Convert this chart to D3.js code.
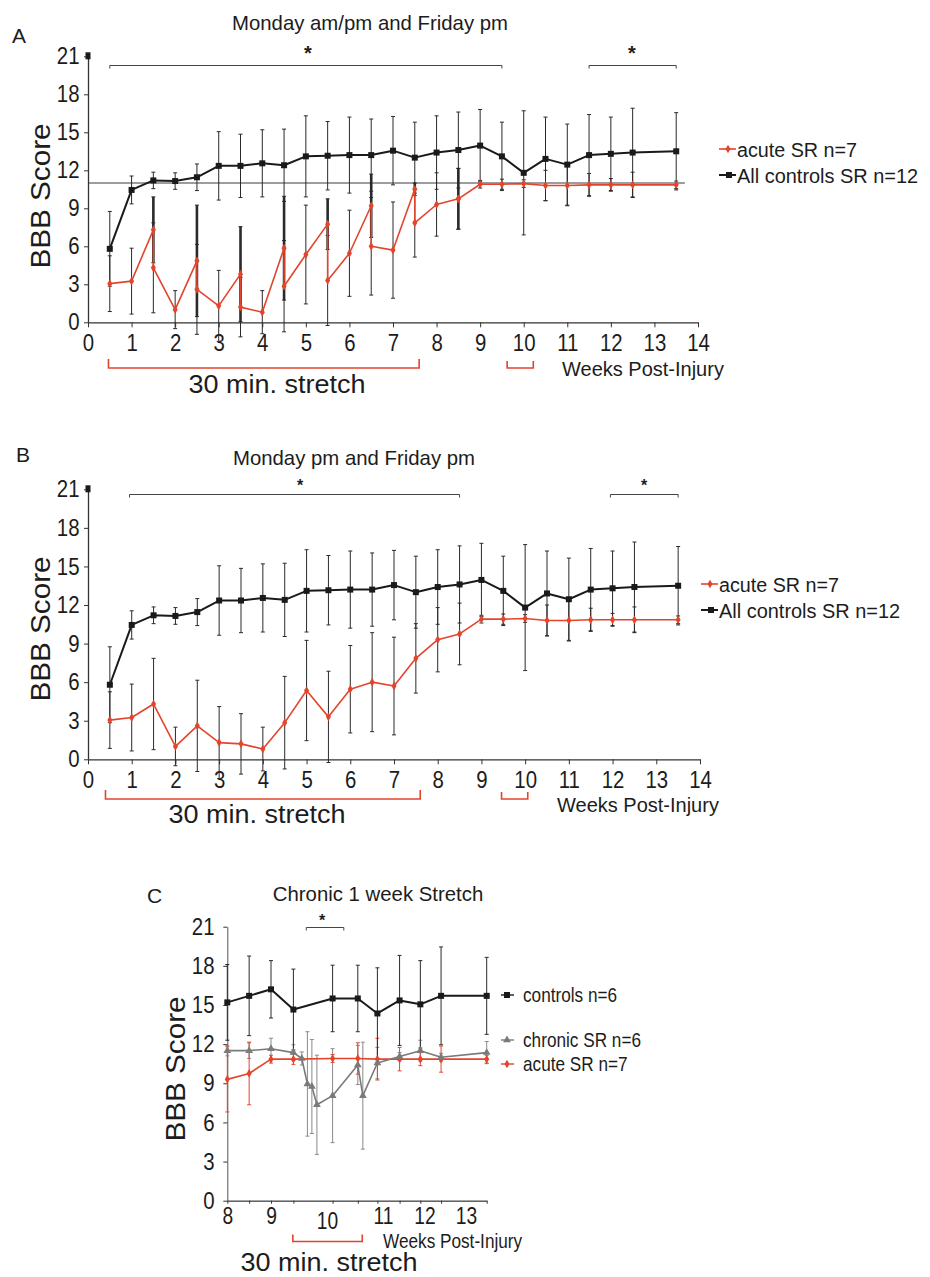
<!DOCTYPE html>
<html>
<head>
<meta charset="utf-8">
<script src="https://d3js.org/d3.v7.min.js"></script>
<style>
body { margin: 0; background: #fff; }
svg { display: block; }
text { font-family: "Liberation Sans", Arial, Helvetica, sans-serif; fill: #1c1c1c; }
</style>
</head>
<body>
<script>

// ---- panel A / B data (weeks post-injury) ----
var weeks = [0.5,1,1.5,2,2.5,3,3.5,4,4.5,5,5.5,6,6.5,7,7.5,8,8.5,9,9.5,10,10.5,11,11.5,12,12.5,13.5];
var ctrlMean = [5.8,10.45,11.2,11.15,11.45,12.35,12.35,12.55,12.4,13.1,13.15,13.2,13.2,13.55,13.0,13.4,13.6,13.95,13.1,11.8,12.9,12.45,13.2,13.3,13.4,13.5];
var ctrlSd   = [2.95,1.1,0.65,0.65,1.05,2.7,2.5,2.65,2.85,3.2,2.7,3.0,2.85,2.7,2.8,2.9,3.0,2.85,2.7,4.9,3.3,3.2,3.2,2.9,3.5,3.05];
var acutePm   = [3.05,3.25,4.3,1.0,2.6,1.3,1.2,0.8,2.85,5.35,3.3,5.45,6.0,5.7,7.85,9.3,9.75,10.9,10.9,10.95,10.8,10.8,10.85,10.85,10.85,10.85];
var acutePmSd = [2.2,2.6,3.55,1.5,3.55,2.8,2.35,1.7,3.6,3.9,3.55,3.4,3.85,3.8,2.7,2.5,2.4,0.3,0.4,0.3,1.2,1.6,0.9,0.5,1.0,0.3];
// Monday am scores (only in panel A)
var amWeeks   = [1.5,2.5,3.5,4.5,5.5,6.5,7.5,8.5];
var acuteAm   = [7.3,4.85,3.8,5.85,7.75,9.2,10.5,9.75];
var acuteAmSd = [2.6,4.4,3.75,4.1,2.0,2.5,0.5,2.4];

// ---- panel C data ----
var cWeeks     = [8,8.5,9,9.4,10.1,10.55,10.9,11.4,11.9,12.4,13.5];
var cCtrl      = [15.2,15.7,16.2,14.65,15.5,15.5,14.35,15.35,15.05,15.7,15.7];
var cCtrlSd    = [2.9,3.05,2.2,3.1,2.55,2.55,3.5,3.45,3.35,3.75,2.95];
var cAcute     = [9.3,9.75,10.85,10.85,10.9,10.9,10.85,10.85,10.85,10.85,10.85];
var cAcuteSd   = [2.5,2.4,0.3,0.4,0.3,1.2,1.6,0.9,0.5,1.0,0.3];
var chronWeeks = [8,8.5,9,9.4,9.55,9.65,9.73,9.82,10.1,10.55,10.64,10.9,11.4,11.9,12.4,13.5];
var chronic    = [11.5,11.5,11.65,11.35,10.9,8.95,8.75,7.35,8.05,10.4,8.05,10.55,11.05,11.5,11.0,11.35];
var chronicSd  = [0.4,0.6,0.8,0.6,0.5,4.0,3.6,3.8,3.6,1.5,4.1,1.2,0.3,0.8,0.3,0.85];

var yTicks = [0,3,6,9,12,15,18,21];
var cXTicks = [8,9,10,11,12,13];
var red = "#e2452c", black = "#1a1a1a", grey = "#7a7a7a";

var svg = d3.select("body").append("svg").attr("width", 930).attr("height", 1277);

function txt(g, s, x, y, size, sx, anchor) {
    return g.append("text")
        .attr("transform", "translate(" + x + "," + y + ") scale(" + sx + ",1)")
        .attr("text-anchor", anchor || "start")
        .style("font-size", size + "px")
        .text(s);
}

function styleAxis(g, size, sx) {
    g.attr("font-family", null).attr("font-size", null);
    g.select(".domain").attr("stroke", "#333").attr("stroke-width", 1.3);
    g.selectAll(".tick line").attr("stroke", "#333");
    g.selectAll(".tick text").style("font-size", size + "px").attr("fill", "#1c1c1c")
        .attr("transform", "scale(" + sx + ",1)");
}

function errBars(g, pts, x, y, color, width) {
    pts.forEach(function(d) {
        var cx = x(d.w);
        g.append("line").attr("x1", cx).attr("x2", cx)
            .attr("y1", y(d.v - d.sd)).attr("y2", y(d.v + d.sd))
            .attr("stroke", color).attr("stroke-width", d.am ? 2.6 : width);
        [d.v - d.sd, d.v + d.sd].forEach(function(e) {
            g.append("line").attr("x1", cx - 2).attr("x2", cx + 2)
                .attr("y1", y(e)).attr("y2", y(e))
                .attr("stroke", color).attr("stroke-width", 1);
        });
    });
}

function bracket(g, x0, x1, yy, h, color) {
    g.append("path")
        .attr("d", "M" + x0 + "," + (yy + h) + "V" + yy + "H" + x1 + "V" + (yy + h))
        .attr("fill", "none").attr("stroke", color).attr("stroke-width", color == red ? 1.6 : 1);
}

function marker(g, type, cx, cy) {
    if (type == "sq") {
        g.append("rect").attr("x", cx - 3).attr("y", cy - 3).attr("width", 6).attr("height", 6).attr("fill", black);
    } else if (type == "tri") {
        g.append("path").attr("d", d3.symbol().type(d3.symbolTriangle).size(26)())
            .attr("transform", "translate(" + cx + "," + cy + ")").attr("fill", grey);
    } else {
        g.append("path").attr("d", d3.symbol().type(d3.symbolDiamond).size(22)())
            .attr("transform", "translate(" + cx + "," + cy + ")").attr("fill", red);
    }
}

function series(g, pts, x, y, color, lw, type) {
    g.append("path").datum(pts)
        .attr("d", d3.line().x(d => x(d.w)).y(d => y(d.v)))
        .attr("fill", "none").attr("stroke", color).attr("stroke-width", lw)
        .attr("stroke-linejoin", "round");
    pts.forEach(d => marker(g, type, x(d.w), y(d.v)));
}

// ---------- panels A and B ----------
function panelAB(p) {
    var g = svg.append("g");
    var x = d3.scaleLinear().domain([0, 14]).range(p.xr);
    var y = d3.scaleLinear().domain([0, 21]).range(p.yr);

    txt(g, p.letter, p.letterPos[0], p.letterPos[1], 21, 1);
    txt(g, p.title, p.titlePos[0], p.titlePos[1], 21, 0.97, "middle");

    g.append("g").attr("transform", "translate(0," + p.yr[0] + ")")
        .call(d3.axisBottom(x).tickValues(d3.range(0, 15)).tickSize(5).tickPadding(7).tickSizeOuter(0))
        .call(styleAxis, 24, 0.85);
    g.append("g").attr("transform", "translate(" + p.xr[0] + ",0)")
        .call(d3.axisLeft(y).tickValues(yTicks).tickSize(4).tickPadding(6).tickSizeOuter(0))
        .call(styleAxis, 24, 0.85);
    g.append("rect").attr("x", x(0) - 2.5).attr("y", y(21) - 4).attr("width", 5).attr("height", 7).attr("fill", black);

    g.append("text")
        .attr("transform", "translate(50," + p.yLabelMid + ") rotate(-90) scale(1.06,1)")
        .attr("text-anchor", "middle").style("font-size", "28px").text("BBB Score");

    if (p.refLine) {
        g.append("line").attr("x1", x(0)).attr("x2", x(13.7))
            .attr("y1", y(11)).attr("y2", y(11)).attr("stroke", "#3a3a44").attr("stroke-width", 1.1);
    }

    // significance brackets
    p.sig.forEach(function(s, i) {
        bracket(g, x(s[0]), x(s[1]), p.sigY, 3, "#444");
        txt(g, "*", p.starX[i], p.starY, p.starSize, 1, "middle").style("font-weight", "bold");
    });

    // stretch brackets below axis
    p.stretch.forEach(function(s, i) {
        bracket(g, x(s[0]), x(s[1]), p.stretchY, i == 0 ? -9 : -7, red);
    });
    txt(g, "30 min. stretch", p.stretchLabel[0], p.stretchLabel[1], 25, 1.08, "middle");
    txt(g, "Weeks Post-Injury", p.weeksLabel[0], p.weeksLabel[1], 20, 1);

    var ctrl = weeks.map((w, i) => ({w: w, v: ctrlMean[i], sd: ctrlSd[i]}));
    var acute = [];
    weeks.forEach(function(w, i) {
        var j = amWeeks.indexOf(w);
        if (p.withAm && j >= 0) acute.push({w: w, v: acuteAm[j], sd: acuteAmSd[j], am: true});
        acute.push({w: w, v: acutePm[i], sd: acutePmSd[i]});
    });

    errBars(g, acute, x, y, "#2a2a2a", 1);
    errBars(g, ctrl, x, y, "#2a2a2a", 1);
    series(g, acute, x, y, red, 1.6, "dia");
    series(g, ctrl, x, y, black, 2, "sq");

    // legend
    var L = p.legend;
    g.append("line").attr("x1", L.x - 18).attr("x2", L.x - 1).attr("y1", L.y1).attr("y2", L.y1).attr("stroke", red).attr("stroke-width", 1.6);
    marker(g, "dia", L.x - 9, L.y1);
    g.append("line").attr("x1", L.x - 18).attr("x2", L.x - 1).attr("y1", L.y2).attr("y2", L.y2).attr("stroke", black).attr("stroke-width", 2);
    marker(g, "sq", L.x - 8, L.y2);
    txt(g, "acute SR n=7", L.x, L.y1 + 8, 21, 0.94);
    txt(g, "All controls SR n=12", L.x, L.y2 + 8, 21, 0.95);
}

panelAB({
    letter: "A", letterPos: [12, 43],
    title: "Monday am/pm and Friday pm", titlePos: [370, 30],
    xr: [88, 698], yr: [322.3, 56.3], yLabelMid: 196,
    refLine: true, withAm: true,
    sig: [[0.5, 9.5], [11.5, 13.5]], sigY: 65.5, starX: [308, 632], starY: 60, starSize: 20,
    stretch: [[0.47, 7.6], [9.62, 10.22]], stretchY: 368,
    stretchLabel: [277, 393], weeksLabel: [562, 376],
    legend: {x: 737, y1: 149, y2: 175}
});

panelAB({
    letter: "B", letterPos: [16, 462],
    title: "Monday pm and Friday pm", titlePos: [354, 465],
    xr: [88, 700], yr: [759.3, 489.3], yLabelMid: 629,
    refLine: false, withAm: false,
    sig: [[0.95, 8.5], [11.95, 13.5]], sigY: 494.5, starX: [300, 644], starY: 491, starSize: 16,
    stretch: [[0.4, 7.6], [9.46, 10.06]], stretchY: 799,
    stretchLabel: [257, 823], weeksLabel: [557, 812],
    legend: {x: 719, y1: 584, y2: 610}
});

// ---------- panel C ----------
(function() {
    var g = svg.append("g");
    var x = d3.scaleLinear().domain([8, 9, 11, 13.5]).range([227.3, 271, 383, 486.7]);
    var y = d3.scaleLinear().domain([0, 21]).range([1200.7, 926.7]);

    txt(g, "C", 147, 903, 21, 1);
    txt(g, "Chronic 1 week Stretch", 378, 901, 21, 0.97, "middle");

    var xa = g.append("g").attr("transform", "translate(0," + y(0) + ")")
        .call(d3.axisBottom(x).tickValues(cXTicks).tickFormat(d3.format("d")).tickSize(0).tickPadding(6).tickSizeOuter(0))
        .call(styleAxis, 24, 0.8);
    xa.selectAll(".tick text").filter(d => d == 10).attr("y", 11);
    g.append("g").attr("transform", "translate(0," + y(0) + ")")
        .call(d3.axisBottom(x).tickValues(cWeeks).tickSize(3).tickFormat("").tickSizeOuter(0))
        .call(styleAxis, 24, 0.8);
    g.append("g").attr("transform", "translate(" + x(8) + ",0)")
        .call(d3.axisLeft(y).tickValues(yTicks).tickSize(4).tickPadding(11).tickSizeOuter(0))
        .call(styleAxis, 24, 0.85);
    g.selectAll(".domain").attr("stroke", "#555").attr("stroke-width", 1);

    g.append("text")
        .attr("transform", "translate(185,1069) rotate(-90) scale(1.06,1)")
        .attr("text-anchor", "middle").style("font-size", "28px").text("BBB Score");

    bracket(g, x(9.63), x(10.3), 927.5, 3, "#444");
    txt(g, "*", 322, 926, 16, 1, "middle").style("font-weight", "bold");

    bracket(g, x(9.39), x(10.63), 1241.5, -7, red);
    txt(g, "Weeks Post-Injury", 383, 1248, 20, 0.86);
    txt(g, "30 min. stretch", 329, 1271, 25, 1.08, "middle");

    var ctrl = cWeeks.map((w, i) => ({w: w, v: cCtrl[i], sd: cCtrlSd[i]}));
    var acute = cWeeks.map((w, i) => ({w: w, v: cAcute[i], sd: cAcuteSd[i]}));
    var chron = chronWeeks.map((w, i) => ({w: w, v: chronic[i], sd: chronicSd[i]}));

    errBars(g, chron, x, y, "#8a8a8a", 1);
    errBars(g, acute, x, y, red, 1);
    errBars(g, ctrl, x, y, "#2a2a2a", 1);
    series(g, acute, x, y, red, 1.6, "dia");
    series(g, chron, x, y, grey, 1.6, "tri");
    series(g, ctrl, x, y, black, 2, "sq");

    // legend
    var lx = 523, rows = [["controls n=6", 995, black, "sq"], ["chronic SR n=6", 1040, grey, "tri"], ["acute SR n=7", 1064, red, "dia"]];
    rows.forEach(function(r) {
        g.append("line").attr("x1", lx - 22).attr("x2", lx - 9).attr("y1", r[1]).attr("y2", r[1])
            .attr("stroke", r[2]).attr("stroke-width", 1.4);
        marker(g, r[3], lx - 16, r[1]);
        txt(g, r[0], lx, r[1] + 7, 20, 0.86);
    });
})();

</script>
</body>
</html>
